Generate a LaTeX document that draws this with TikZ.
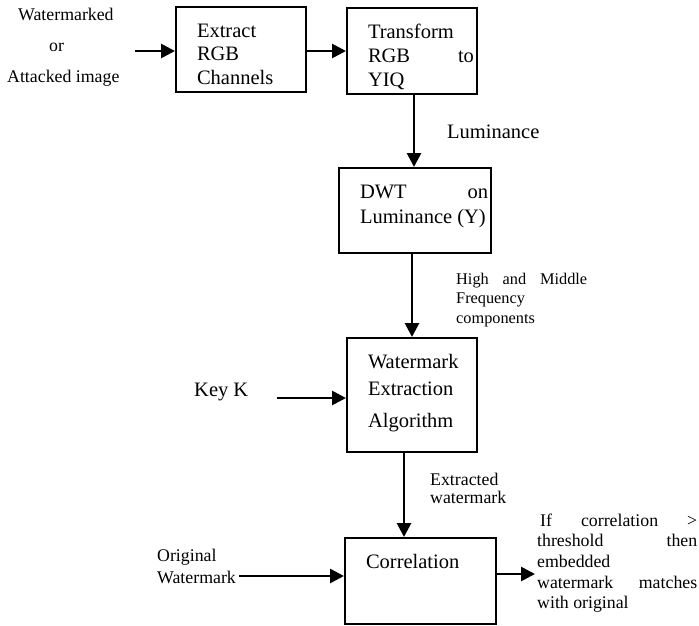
\documentclass[tikz,border=0pt]{standalone}
\usepackage{fontspec}
\setmainfont{Liberation Serif}
\usetikzlibrary{arrows.meta}
\newcommand{\szbox}{\fontsize{20.5pt}{24pt}\selectfont}
\newcommand{\szside}{\fontsize{17.8pt}{20.7pt}\selectfont}
\newcommand{\szsmall}{\fontsize{16.3pt}{19.5pt}\selectfont}
% box content: width, height, inner text width, text
\newcommand{\boxcontent}[4]{\parbox[c][#2][t]{#1}{\szbox\rule{0pt}{30pt}\hspace*{21pt}\parbox[t]{#3}{\szbox #4}}}
\begin{document}
\begin{tikzpicture}[x=1pt,y=-1pt,
  blk/.style={draw, line width=2pt, rectangle, inner sep=0pt, anchor=north west},
  lbl/.style={inner sep=0pt, anchor=base west},
  arr/.style={line width=2.7pt, -{Triangle[length=14pt,width=14pt]}}]
\useasboundingbox (0,0) rectangle (699,625);

% boxes
\node[blk] (ext)  at (175,6)   {\boxcontent{130pt}{85pt}{105pt}{\fontsize{20.5pt}{23.5pt}\selectfont Extract\\RGB\\Channels}};
\node[blk] (tr)   at (346,7)   {\boxcontent{130pt}{86pt}{106pt}{Transform\\RGB\hfill to\\YIQ}};
\node[blk] (dwt)  at (338,167) {\boxcontent{152pt}{85pt}{128pt}{\fontsize{20.5pt}{25pt}\selectfont DWT\hfill on\\Luminance (Y)}};
\node[blk] (wext) at (346,337) {\boxcontent{130pt}{114pt}{105pt}{\fontsize{20.5pt}{27pt}\selectfont Watermark\\Extraction\\[5pt]Algorithm}};
\node[blk] (corr) at (344,537) {\boxcontent{151pt}{86pt}{125pt}{Correlation}};

% labels
\node[lbl] (inTxt) at (7,20.5) {\parbox[t]{120pt}{\fontsize{17.8pt}{31.2pt}\selectfont\hspace*{11pt}Watermarked\\\hspace*{42pt}or\\Attacked image}};
\node[lbl] (lum) at (447,138) {\szbox Luminance};
\node[lbl] (hm) at (456,284) {\parbox[t]{131pt}{\szsmall High\hfill and\hfill Middle\\Frequency\\components}};
\node[lbl] (key) at (194,396) {\szbox Key K};
\node[lbl] (extw) at (430,485) {\parbox[t]{100pt}{\fontsize{17.8pt}{18.5pt}\selectfont Extracted\\watermark}};
\node[lbl] (orig) at (157,561) {\parbox[t]{100pt}{\fontsize{17.8pt}{22pt}\selectfont Original\\Watermark}};
\node[lbl] (res) at (537,526) {\parbox[t]{160pt}{\szside\hspace*{3pt}If\hfill correlation\hfill >\\threshold\hfill then\\embedded\\watermark\hfill matches\\with original}};

% connector helper coordinates
\coordinate (inS) at (135,51);
\coordinate (x1) at (414,100);
\coordinate (x3) at (404,500);
\coordinate (kS) at (277,398);
\coordinate (oS) at (239,576);
\coordinate (oE) at (535,574);

% connectors
\draw[arr] (inS) -- (ext.west |- inS);
\draw[arr] (ext.east |- inS) -- (tr.west |- inS);
\draw[arr] (tr.south -| x1) -- (dwt.north -| x1);
\draw[arr] (dwt.south -| wext.north) -- (wext.north);
\draw[arr] (kS) -- (wext.west |- kS);
\draw[arr] (wext.south -| x3) -- (corr.north -| x3);
\draw[arr] (oS) -- (corr.west |- oS);
\draw[arr] (corr.east |- oE) -- (oE);
\end{tikzpicture}
\end{document}
